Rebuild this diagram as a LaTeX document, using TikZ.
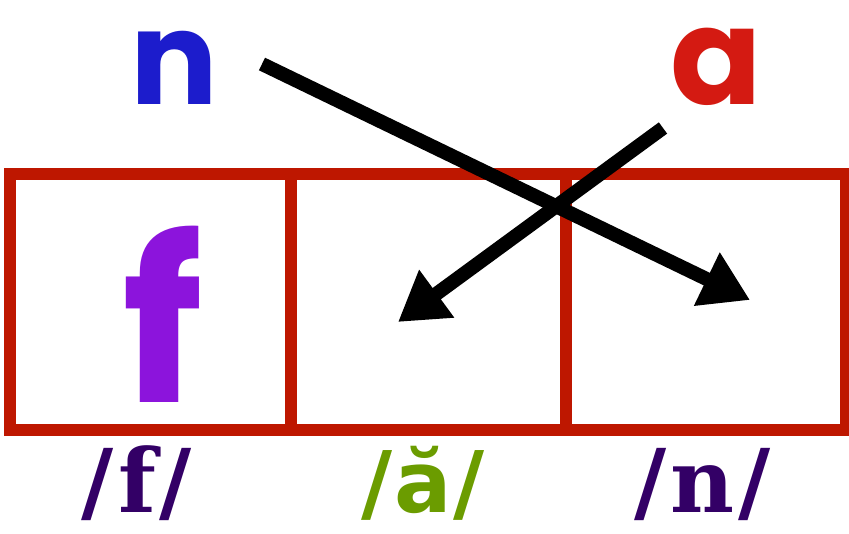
\documentclass[tikz,border=0pt]{standalone}
\usepackage{fontspec}
\usetikzlibrary{arrows.meta}
\newfontfamily\roundfont{Poppins}[UprightFont=* Bold]
\newfontfamily\slabfont{DejaVu Serif}[UprightFont=* Bold]
\newfontfamily\labsans{DejaVu Sans}[UprightFont=* Bold]
\definecolor{boxred}{HTML}{BE1700}
\definecolor{nblue}{HTML}{1C1CCC}
\definecolor{ared}{HTML}{D41A12}
\definecolor{fpurple}{HTML}{8C14DC}
\definecolor{ipapurple}{HTML}{330066}
\definecolor{ipagreen}{HTML}{6B9C00}
\begin{document}
\begin{tikzpicture}[x=1pt,y=-1pt,
  cell/.style={draw=boxred,line width=12pt,minimum height=256pt,inner sep=0pt},
  bigletter/.style={inner sep=0pt,text depth=0pt,font=\roundfont},
  ipa/.style={inner sep=0pt,text=ipapurple,font=\slabfont\fontsize{88}{88}\selectfont},
  crossarrow/.style={line width=14pt,-{Triangle[length=48pt,width=56pt]}}]
\useasboundingbox (0,0) rectangle (849,533);
\node[cell,minimum width=280.5pt] (box1) at (150.25,302) {};
\node[cell,minimum width=275pt] (box2) at (428,302) {};
\node[cell,minimum width=280.5pt] (box3) at (705.75,302) {};
\node[bigletter,text=nblue,font=\roundfont\fontsize{130}{130}\selectfont,anchor=base] (n) at (174,104) {n};
\node[bigletter,text=ared,font=\roundfont\fontsize{135}{135}\selectfont,anchor=base] (a) at (716,104) {a};
\node[bigletter,text=fpurple,font=\roundfont\fontsize{225}{225}\selectfont,anchor=base] (f) at (163,402) {f};
\node[ipa,anchor=base] (lf) at (137,512) {/\kern4pt f\kern4pt/};
\node[ipa,text=ipagreen,font=\labsans\fontsize{85}{85}\selectfont,anchor=base] (la) at (423,512) {/\kern2pt ă\kern2pt/};
\node[ipa,anchor=base] (ln) at (703,512) {/\kern4pt n\kern4pt/};
\coordinate (s1) at (262,64);
\coordinate (t1) at (750,300);
\coordinate (s2) at (663,128);
\coordinate (t2) at (398,322);
\draw[crossarrow] (s1) -- (t1);
\draw[crossarrow] (s2) -- (t2);
\end{tikzpicture}
\end{document}
